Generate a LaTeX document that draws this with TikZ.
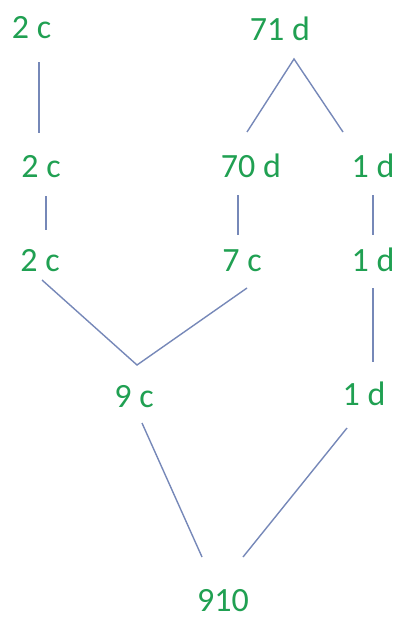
\documentclass[tikz,border=0pt]{standalone}
\usepackage{fontspec}
\setmainfont{Carlito}
\usetikzlibrary{calc}
\definecolor{lbl}{RGB}{32,160,82}
\definecolor{edge}{RGB}{118,136,184}
\tikzset{
  lab/.style={text=lbl, inner sep=0pt, anchor=center, text height=21pt, text depth=0pt,
    font=\fontsize{34}{36}\selectfont},
  conn/.style={draw=edge, line width=1.4pt}
}
\begin{document}
\begin{tikzpicture}[x=1pt,y=-1pt]
\useasboundingbox (0,0) rectangle (395,621);
\node[lab] (A) at (31.5,28) {2 c};
\node[lab] (B) at (41,167) {2 c};
\node[lab] (C) at (40,261) {2 c};
\node[lab] (D) at (280,30) {71 d};
\node[lab] (E) at (251,167) {70 d};
\node[lab] (F) at (373,167) {1 d};
\node[lab] (G) at (373,261) {1 d};
\node[lab] (H) at (364,395) {1 d};
\node[lab] (I) at (242,261) {7 c};
\node[lab] (J) at (134,397) {9 c};
\node[lab] (K) at (223,601) {910};
\draw[conn] ($(A)+(7.5,34)$) -- ($(B)+(-2,-34)$);
\draw[conn] ($(B)+(5,29)$) -- ($(C)+(6,-31)$);
\draw[conn] ($(E)+(-4,-35)$) -- ($(D)+(14,29)$) -- ($(F)+(-30,-35)$);
\draw[conn] ($(E)+(-13,28)$) -- ($(I)+(-4,-26)$);
\draw[conn] ($(F)+(0,28)$) -- ($(G)+(0,-26)$);
\draw[conn] ($(G)+(0,27)$) -- ($(H)+(9,-33)$);
\draw[conn] ($(C)+(2,19)$) -- ($(J)+(3,-32)$) -- ($(I)+(5,27)$);
\draw[conn] ($(J)+(8,26)$) -- ($(K)+(-21,-44)$);
\draw[conn] ($(H)+(-17,33)$) -- ($(K)+(20,-44)$);
\end{tikzpicture}
\end{document}
